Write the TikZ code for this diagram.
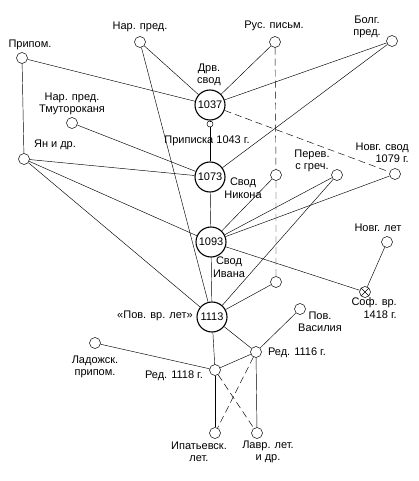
\documentclass[tikz,border=0pt]{standalone}
\usepackage{fontspec}
\setmainfont{Liberation Sans}
\usepackage{tikz}

\begin{document}
\begin{tikzpicture}[x=1pt,y=-1pt,
  sm/.style={circle,draw,line width=.5pt,minimum size=11pt,inner sep=0pt,fill=white},
  big/.style={circle,draw,line width=1.1pt,minimum size=30pt,inner sep=0pt,fill=white,font=\fontsize{11}{12}\selectfont},
  lbl/.style={align=center,inner sep=0pt,font=\fontsize{11}{12.5}\selectfont},
  ln/.style={line width=.45pt},
  dsh/.style={line width=.45pt,dash pattern=on 7pt off 4pt}]
\useasboundingbox (0,0) rectangle (418,481);
% sources
\node[sm] (pripom) at (22,58) {};
\node[sm] (narpred) at (140,42) {};
\node[sm] (ruspis) at (275,42) {};
\node[sm] (bolg) at (392,41) {};
\node[sm] (tmut) at (72,123) {};
\node[sm] (yan) at (24,159) {};
\node[sm] (novg79) at (395,174) {};
\node[sm] (perev) at (337,175) {};
\node[sm] (ru1) at (276,175) {};
\node[sm] (ru2) at (276,282) {};
\node[sm] (novglet) at (387,242) {};
\node[sm,path picture={\draw[line width=.5pt] (path picture bounding box.south west) -- (path picture bounding box.north east) (path picture bounding box.north west) -- (path picture bounding box.south east);}] (sof) at (365,292) {};
\node[sm] (vasil) at (300,309) {};
\node[sm] (red16) at (256,352) {};
\node[sm] (red18) at (215,370) {};
\node[sm] (ladog) at (95,343) {};
\node[sm] (ipat) at (215,433) {};
\node[sm] (lavr) at (257,433) {};
\node[circle,draw,line width=.5pt,minimum size=6pt,inner sep=0pt] (prip) at (210,124) {};
% svody
\node[big] (s1037) at (210,105) {1037};
\node[big] (s1073) at (210,177) {1073};
\node[big] (s1093) at (211,242) {1093};
\node[big] (s1113) at (212,317) {1113};
% labels
\node[lbl] (tpripom) at (30,45) {Припом.};
\node[lbl] (tnarpred) at (140,27) {Нар. пред.};
\node[lbl] (truspis) at (274,26) {Рус. письм.};
\node[lbl] (tbolg) at (367,27) {Болг.\\пред.};
\node[lbl] (tdrv) at (209,75) {Дрв.\\свод};
\node[lbl] (ttmut) at (72,104) {Нар. пред.\\Тмутороканя};
\node[lbl] (tyan) at (55,145) {Ян и др.};
\node[lbl] (tprip) at (207,141) {Приписка 1043 г.};
\node[lbl,align=right,anchor=east] (tnovg79) at (409,153) {Новг. свод\\1079 г.};
\node[lbl] (tperev) at (312,161) {Перев.\\с греч.};
\node[lbl] (tnikon) at (243,188) {Свод\\Никона};
\node[lbl] (tivan) at (229,267) {Свод\\Ивана};
\node[lbl] (tnovglet) at (378,228) {Новг. лет};
\node[lbl,align=right,anchor=east] (tsof) at (397,308) {Соф. вр.\\1418 г.};
\node[lbl] (tpov) at (155,316) {«Пов. вр. лет»};
\node[lbl] (tvasil) at (320,322) {Пов.\\Василия};
\node[lbl] (tred16) at (297,353) {Ред. 1116 г.};
\node[lbl] (tred18) at (174,376) {Ред. 1118 г.};
\node[lbl] (tladog) at (95,367) {Ладожск.\\припом.};
\node[lbl] (tipat) at (199,452) {Ипатьевск.\\лет.};
\node[lbl] (tlavr) at (268,452) {Лавр. лет.\\и др.};
% connections
\draw[ln] (pripom) -- (s1037);
\draw[ln] (narpred) -- (s1037);
\draw[ln] (narpred) -- (s1113);
\draw[ln] (ruspis) -- (s1037);
\draw[dsh] (ruspis) -- (ru1) -- (ru2);
\draw[ln] (bolg) -- (s1037);
\draw[ln] (bolg) -- (s1073);
\draw[dsh] (s1037) -- (novg79);
\draw[ln] (s1037) -- (prip) -- (s1073);
\draw[ln] (tmut) -- (s1073);
\draw[ln] (pripom) -- (yan);
\draw[ln] (yan) -- (s1073);
\draw[ln] (yan) -- (s1093);
\draw[ln] (yan) -- (s1113);
\draw[ln] (s1073) -- (s1093);
\draw[ln] (ru1) -- (s1093);
\draw[ln] (perev) -- (s1093);
\draw[ln] (perev) -- (s1113);
\draw[ln] (novg79) -- (s1093);
\draw[ln] (s1093) -- (sof);
\draw[ln] (novglet) -- (sof);
\draw[ln] (s1093) -- (s1113);
\draw[ln] (ru2) -- (s1113);
\draw[ln] (s1113) -- (red18);
\draw[ln] (s1113) -- (red16);
\draw[ln] (vasil) -- (red16);
\draw[ln] (red16) -- (red18);
\draw[ln] (ladog) -- (red18);
\draw[ln] (red18) -- (ipat);
\draw[ln] (red16) -- (lavr);
\draw[dsh] (red16) -- (ipat);
\draw[dsh] (red18) -- (lavr);
\end{tikzpicture}
\end{document}
